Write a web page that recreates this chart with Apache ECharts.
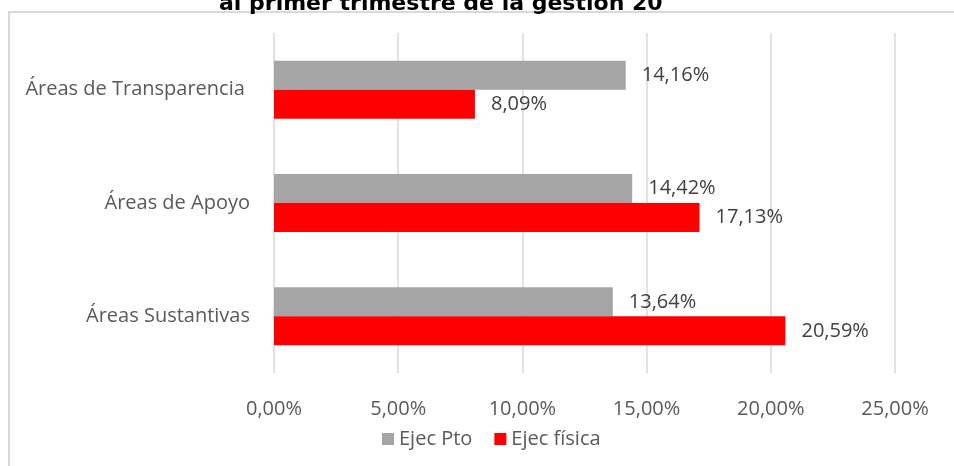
<!DOCTYPE html>
<html>
<head>
<meta charset="utf-8">
<script src="https://cdn.jsdelivr.net/npm/echarts@6/dist/echarts.min.js"></script>
<style>
  html, body { margin: 0; padding: 0; background: #fff; }
  #main { width: 954px; height: 466px; }
</style>
</head>
<body>
<div id="main"></div>
<script>
// data
const categories = ['Áreas de Transparencia ', 'Áreas de Apoyo', 'Áreas Sustantivas'];
const ejecPto = [14.16, 14.42, 13.64];
const ejecFisica = [8.09, 17.13, 20.59];
const seriesNames = ['Ejec Pto', 'Ejec física'];

const fmt = v => v.toFixed(2).replace('.', ',') + '%';
const font = '"Open Sans", "Noto Sans", sans-serif';

const myChart = echarts.init(document.getElementById('main'));
myChart.setOption({
  animation: false,
  title: {
    text: 'al primer trimestre de la gestión 20',
    left: 219,
    top: -7,
    padding: 0,
    textStyle: { fontFamily: '"DejaVu Sans", sans-serif', fontWeight: 'bold', fontSize: 22, color: '#000' }
  },
  graphic: [{
    type: 'rect',
    shape: { x: 9, y: 12, width: 960, height: 470 },
    style: { fill: 'none', stroke: '#d9d9d9', lineWidth: 2 },
    silent: true
  }],
  grid: { left: 274, right: 59, top: 33, height: 340 },
  legend: {
    left: 377,
    top: 424,
    itemWidth: 12,
    itemHeight: 12,
    itemGap: 22,
    icon: 'rect',
    textStyle: { fontFamily: font, fontSize: 20, color: '#595959' },
    data: seriesNames
  },
  xAxis: {
    type: 'value',
    min: 0,
    max: 25,
    interval: 5,
    axisLine: { show: false },
    axisTick: { show: false },
    splitLine: { lineStyle: { color: '#d9d9d9', width: 1.5 } },
    axisLabel: { formatter: fmt, margin: 26, fontFamily: font, fontSize: 20, color: '#595959' }
  },
  yAxis: {
    type: 'category',
    inverse: true,
    data: categories,
    axisLine: { show: false },
    axisTick: { show: false },
    axisLabel: { margin: 24, fontFamily: font, fontSize: 20, color: '#595959' }
  },
  series: [{
    name: seriesNames[0],
    type: 'bar',
    data: ejecPto,
    barWidth: 29,
    barGap: '0%',
    itemStyle: { color: '#a5a5a5' },
    label: { show: true, position: 'right', distance: 16, formatter: p => fmt(p.value),
      fontFamily: font, fontSize: 20, color: '#404040' }
  }, {
    name: seriesNames[1],
    type: 'bar',
    data: ejecFisica,
    barWidth: 29,
    barGap: '0%',
    itemStyle: { color: '#ff0000' },
    label: { show: true, position: 'right', distance: 16, formatter: p => fmt(p.value),
      fontFamily: font, fontSize: 20, color: '#404040' }
  }]
});
</script>
</body>
</html>
